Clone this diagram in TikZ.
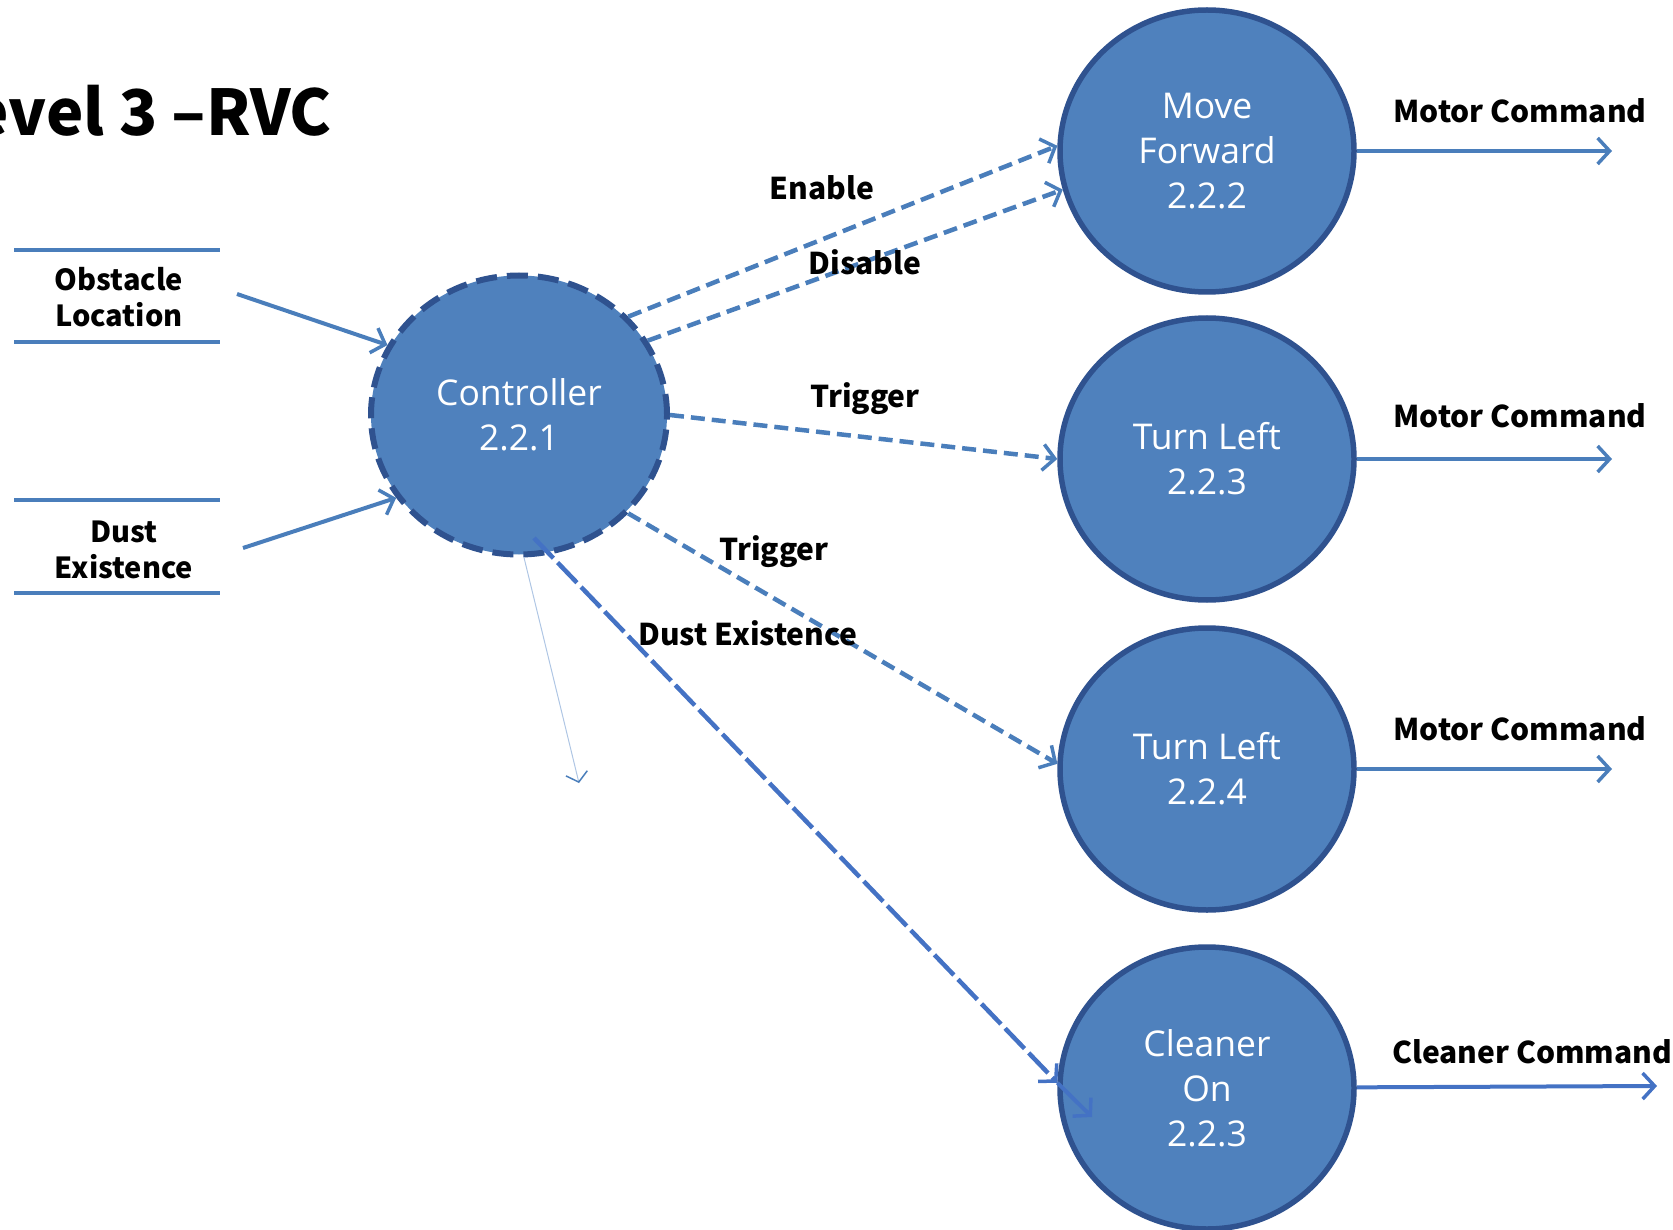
\documentclass[tikz,border=0pt]{standalone}
\usepackage{fontspec}
\usetikzlibrary{shapes.geometric,arrows.meta}
\setmainfont{Open Sans}
\newfontfamily\lblfont{Noto Sans CJK KR}
\definecolor{procfill}{RGB}{79,129,189}
\definecolor{procline}{RGB}{47,82,143}
\definecolor{flowblue}{RGB}{74,126,187}
\definecolor{dustblue}{RGB}{68,114,196}
\definecolor{faintblue}{RGB}{175,198,228}

\begin{document}
\begin{tikzpicture}[x=1pt,y=-1pt,
	process/.style={ellipse, fill=procfill, draw=procline, line width=5.5pt, inner sep=0pt, minimum width=294pt, minimum height=282pt, text=white, align=center, font=\fontsize{35.5}{45}\selectfont},
	ctrlproc/.style={process, dash pattern=on 21pt off 10pt, line width=6pt, minimum width=296pt, minimum height=279pt},
	flow/.style={draw=flowblue, line width=4pt, -{Straight Barb[length=12pt,width=26pt,line width=3.5pt]}},
	ctrlflow/.style={flow, line width=4.5pt, dash pattern=on 14pt off 7pt},
	dustflow/.style={flow, draw=dustblue, line width=4.5pt, dash pattern=on 28pt off 6pt},
	faintflow/.style={draw=faintblue, line width=1pt, -{Straight Barb[length=9pt,width=22pt,line width=1.5pt,color=flowblue]}},
	flowlabel/.style={font=\lblfont\bfseries\fontsize{30}{34}\selectfont, anchor=base, inner sep=0pt},
	storelabel/.style={font=\lblfont\bfseries\fontsize{29}{36}\selectfont, align=center, inner sep=0pt},
	store/.style={draw=flowblue, line width=4.5pt}
	]
					\useasboundingbox (0,0) rectangle (1673,1230);
					
					%Nodes
					\node[anchor=base east, inner sep=0pt, font=\lblfont\bfseries\fontsize{63}{68}\selectfont] (title) at (332,136) {Level 3 –RVC};
					\node[process] 	(mf) 	at 	(1207,151) 	{Move\\Forward\\2.2.2};
					\node[process] 	(tl1) 	at 	(1207,459) 	{Turn Left\\2.2.3};
					\node[process] 	(tl2) 	at 	(1207,769) 	{Turn Left\\2.2.4};
					\node[process] 	(co) 	at 	(1207,1088) {Cleaner\\On\\2.2.3};
					\node[ctrlproc] (ctrl) 	at 	(519,415) 	{Controller\\2.2.1};
					\node[storelabel] (obst) at (119,297) {Obstacle\\Location};
					\node[storelabel] (dust) at (124,550) {Dust\\Existence};
					
					\coordinate      (obin) 	at 	(237,294);
					\coordinate      (dsin) 	at 	(243,548);
					\coordinate      (dsrc) 	at 	(534,538);
					\coordinate      (dend) 	at 	(1092,1117);
					\coordinate      (ftip) 	at 	(579,783);
					\coordinate      (mfout) 	at 	(1612,151);
					\coordinate      (tl1out) 	at 	(1612,459);
					\coordinate      (tl2out) 	at 	(1612,769);
					\coordinate      (coout) 	at 	(1657,1086);
					
					%Stores
					\draw[store] (14,250) -- (220,250);
					\draw[store] (14,342) -- (220,342);
					\draw[store] (14,500) -- (220,500);
					\draw[store] (14,593) -- (220,593);
					
					%Lines
					\draw[flow] (obin) -- (ctrl.152);
					\draw[flow] (dsin) -- (ctrl.214);
					\draw[ctrlflow] (ctrl.42) -- (mf.178);
					\draw[ctrlflow] (ctrl.30) -- (mf.195);
					\draw[ctrlflow] (ctrl.0) -- (tl1.180);
					\draw[ctrlflow] (ctrl.318) -- (tl2.178);
					\draw[dustflow] (dsrc) -- (co.178);
					\draw[flow, draw=dustblue] (co.178) -- (dend);
					\draw[faintflow] (ctrl.272) -- (ftip);
					\draw[flow] (mf) -- (mfout);
					\draw[flow] (tl1) -- (tl1out);
					\draw[flow] (tl2) -- (tl2out);
					\draw[flow, draw=dustblue] (co) -- (coout);
					
					%Labels
					\node[flowlabel] (enl) 	at (822,200) {Enable};
					\node[flowlabel] (disl) at (865,275) {Disable};
					\node[flowlabel] (trl1) at (865,407) {Trigger};
					\node[flowlabel] (trl2) at (774,560) {Trigger};
					\node[flowlabel] (dustl) at (748,645) {Dust Existence};
					\node[flowlabel] (mcl1) at (1520,123) {Motor Command};
					\node[flowlabel] (mcl2) at (1520,427) {Motor Command};
					\node[flowlabel] (mcl3) at (1520,740) {Motor Command};
					\node[flowlabel] (ccl) 	at (1532,1063) {Cleaner Command};

\end{tikzpicture}
\end{document}
